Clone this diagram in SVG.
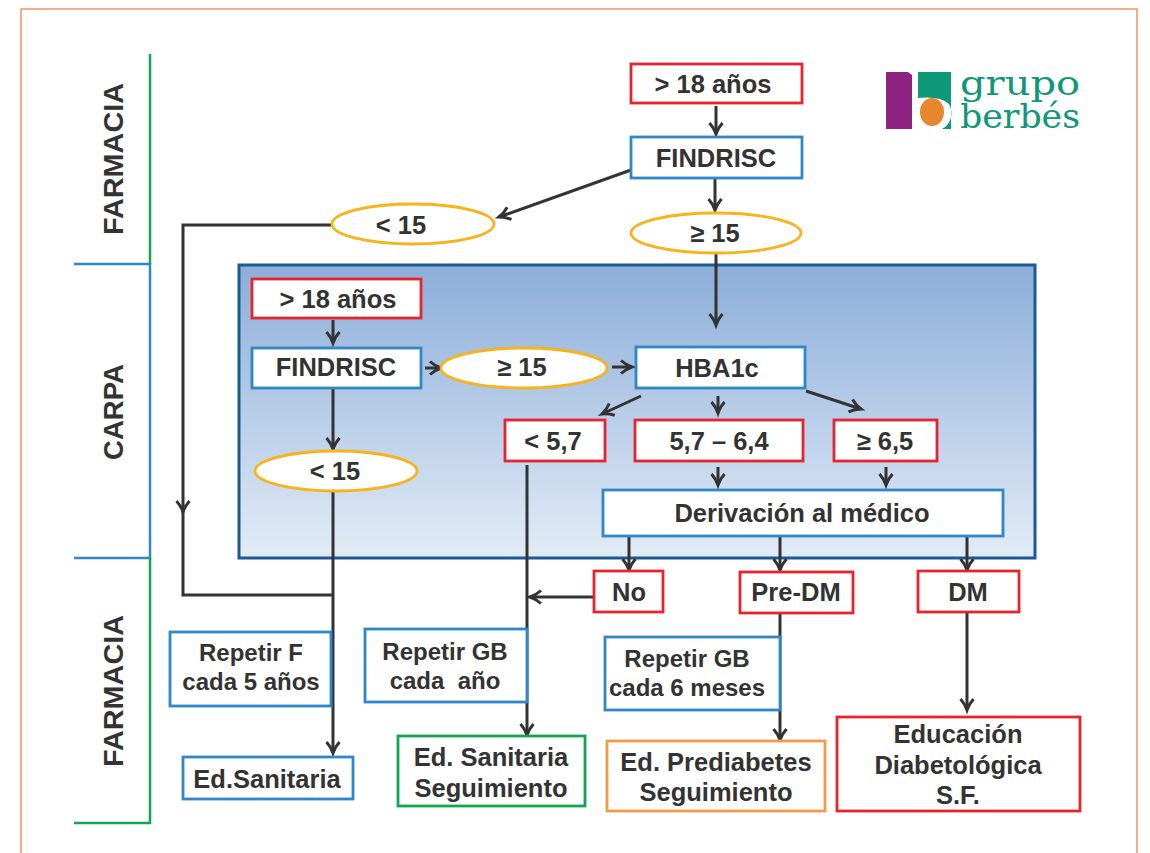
<svg xmlns="http://www.w3.org/2000/svg" width="1150" height="853" viewBox="0 0 1150 853">
<style>
text{font-family:"Liberation Sans",Arial,sans-serif;font-weight:bold;fill:#333;text-anchor:middle;font-size:25.500px}
.lane{font-size:27.500px}
.s{font-size:24px}
.r,.b,.g,.o,.y{fill:#fff;stroke-width:2.800}
.r{stroke:#e6242e}.b{stroke:#2f86c8}.g{stroke:#12a650}.o{stroke:#f29a4a}.y{stroke:#f6b31c}
.c{fill:none;stroke:#333;stroke-width:3}
.a{marker-end:url(#arr)}
.logo{font-family:"DejaVu Serif",serif;font-weight:normal;fill:#0f9878;font-size:33px;text-anchor:start}
</style>
<defs>
<linearGradient id="panel" x1="0" y1="0" x2="0" y2="1"><stop offset="0" stop-color="#8cadd9"/><stop offset="1" stop-color="#e2ecf6"/></linearGradient>
<marker id="arr" markerUnits="userSpaceOnUse" markerWidth="20" markerHeight="20" refX="13" refY="8" orient="auto"><path d="M2 1.500Q7 6 13 8Q7 10 2 14.500" fill="none" stroke="#333" stroke-width="3"/></marker>
</defs>
<rect width="1150" height="853" fill="#fff"/>
<path d="M21 853V9H1137V853" fill="none" stroke="#f0936b" stroke-width="1.500"/>
<g id="lanes">
<path d="M150 54V264" fill="none" stroke="#12a650" stroke-width="2.500"/>
<path d="M74 264H150V558H74" fill="none" stroke="#2f86c8" stroke-width="2.500"/>
<path d="M150 558V823H74" fill="none" stroke="#12a650" stroke-width="2.500"/>
<text class="lane" transform="translate(123 159) rotate(-90)" textLength="152" lengthAdjust="spacingAndGlyphs">FARMACIA</text>
<text class="lane" transform="translate(123 412) rotate(-90)">CARPA</text>
<text class="lane" transform="translate(123 691) rotate(-90)" textLength="152" lengthAdjust="spacingAndGlyphs">FARMACIA</text>
</g>
<rect id="panel-carpa" x="239" y="265" width="796" height="293" fill="url(#panel)" stroke="#1c5a94" stroke-width="3"/>
<g id="logo">
<path d="M886 72H908L912 75V129H886Z" fill="#8e2382"/>
<path d="M918 72H951V129H942A15 17 0 0 0 949 104Q940 96 918 98Z" fill="#0f9878"/>
<ellipse cx="932" cy="112" rx="12" ry="14" fill="#e5872a"/>
<text class="logo" x="960" y="95" textLength="120" lengthAdjust="spacingAndGlyphs">grupo</text>
<text class="logo" x="960" y="128" textLength="120" lengthAdjust="spacingAndGlyphs">berbés</text>
</g>
<g id="connectors">
<path class="c a" d="M716 106V134"/>
<path class="c a" d="M631 170L499 217"/>
<path class="c a" d="M715 179V210"/>
<path class="c a" d="M716 253V325"/>
<path class="c a" d="M332 225H183V512"/>
<path class="c" d="M183 512V595H332"/>
<path class="c a" d="M333 320V343"/>
<path class="c a" d="M333 388V449"/>
<path class="c a" d="M333 491V753"/>
<path class="c a" d="M425 368H441"/>
<path class="c a" d="M612 367H632"/>
<path class="c a" d="M641 396L602 414"/>
<path class="c a" d="M718 396V413"/>
<path class="c a" d="M806 391L861 409"/>
<path class="c a" d="M718 467V485"/>
<path class="c a" d="M886 467V485"/>
<path class="c a" d="M629 537V570"/>
<path class="c a" d="M780 537V570"/>
<path class="c a" d="M967 537V570"/>
<path class="c a" d="M780 613V740"/>
<path class="c a" d="M967 613V710"/>
<path class="c a" d="M527 465V735"/>
<path class="c a" d="M594 597H530"/>
</g>
<g id="n1"><rect class="r" x="631" y="64" width="171" height="39"/><text x="713" y="93">&gt; 18 años</text></g>
<g id="n2"><rect class="b" x="631" y="137" width="171" height="41"/><text x="716" y="167">FINDRISC</text></g>
<g id="n3"><ellipse class="y" cx="716" cy="233" rx="85" ry="20"/><text x="715" y="242">≥ 15</text></g>
<g id="n4"><ellipse class="y" cx="413" cy="224" rx="81" ry="20"/><text x="401" y="234">&lt; 15</text></g>
<g id="n5"><rect class="r" x="252" y="279" width="169" height="39"/><text x="338" y="308">&gt; 18 años</text></g>
<g id="n6"><rect class="b" x="252" y="348" width="169" height="40"/><text x="336" y="376">FINDRISC</text></g>
<g id="n7"><ellipse class="y" cx="524" cy="368" rx="83" ry="20"/><text x="522" y="376">≥ 15</text></g>
<g id="n8"><ellipse class="y" cx="336" cy="471" rx="81" ry="20"/><text x="335" y="480">&lt; 15</text></g>
<g id="n9"><rect class="b" x="636" y="347" width="169" height="41"/><text x="717" y="377">HBA1c</text></g>
<g id="n10"><rect class="r" x="505" y="420" width="100" height="41"/><text x="553" y="450">&lt; 5,7</text></g>
<g id="n11"><rect class="r" x="635" y="420" width="168" height="41"/><text x="719" y="450">5,7 – 6,4</text></g>
<g id="n12"><rect class="r" x="834" y="420" width="103" height="41"/><text x="885" y="450">≥ 6,5</text></g>
<g id="n13"><rect class="b" x="603" y="490" width="400" height="46"/><text x="802" y="522">Derivación al médico</text></g>
<g id="n14"><rect class="r" x="594" y="571" width="69" height="41"/><text x="629" y="601">No</text></g>
<g id="n15"><rect class="r" x="740" y="572" width="113" height="41"/><text x="796" y="601">Pre-DM</text></g>
<g id="n16"><rect class="r" x="918" y="571" width="101" height="41"/><text x="968" y="601">DM</text></g>
<g id="n17"><rect class="b" x="170" y="632" width="161" height="74"/><text class="s" x="251" y="661">Repetir F</text><text class="s" x="251" y="690">cada 5 años</text></g>
<g id="n18"><rect class="b" x="365" y="629" width="162" height="73"/><text class="s" x="445" y="660">Repetir GB</text><text class="s" x="445" y="689" xml:space="preserve">cada  año</text></g>
<g id="n19"><rect class="b" x="605" y="637" width="175" height="73"/><text class="s" x="687" y="667">Repetir GB</text><text class="s" x="687" y="696">cada 6 meses</text></g>
<g id="n20"><rect class="b" x="183" y="757" width="170" height="42"/><text x="267" y="788">Ed.Sanitaria</text></g>
<g id="n21"><rect class="g" x="398" y="736" width="187" height="70"/><text x="491" y="766">Ed. Sanitaria</text><text x="491" y="797">Seguimiento</text></g>
<g id="n22"><rect class="o" x="607" y="741" width="218" height="70"/><text x="716" y="771">Ed. Prediabetes</text><text x="716" y="801">Seguimiento</text></g>
<g id="n23"><rect class="r" x="837" y="717" width="243" height="94"/><text x="958" y="743">Educación</text><text x="958" y="774">Diabetológica</text><text x="958" y="804">S.F.</text></g>
</svg>
